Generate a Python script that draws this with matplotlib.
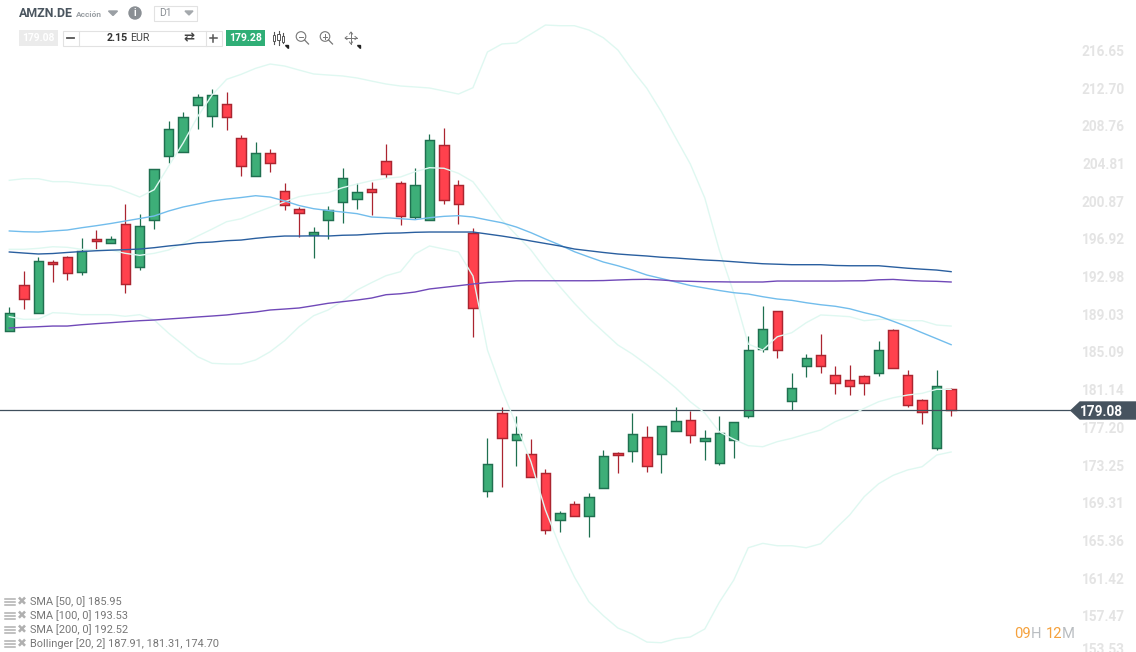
import matplotlib
matplotlib.use("Agg")
import matplotlib.pyplot as plt
from matplotlib.patches import Rectangle, Polygon, Circle

plt.rcParams['font.family'] = ['Roboto', 'DejaVu Sans']

highs = [189.83, 193.63, 195.13, 194.75, 195.20, 197.05, 197.92, 197.29, 200.61, 199.56, 204.27,
         209.30, 210.24, 212.12, 212.64, 212.33, 207.83, 207.10, 206.37, 202.81, 200.30, 198.20,
         200.40, 204.38, 202.81, 202.91, 206.92, 203.02, 204.38, 207.97, 208.56, 203.12, 198.10,
         176.12, 179.37, 178.42, 176.02, 172.88, 168.48, 169.53, 170.37, 174.87, 174.66, 178.74,
         177.38, 177.38, 179.37, 178.95, 176.96, 178.42, 177.80, 186.80, 189.94, 189.41, 182.92,
         184.91, 187.01, 183.66, 183.76, 182.72, 186.27, 187.53, 183.24, 180.20, 183.24, 181.35]
opens = [187.35, 192.13, 189.20, 194.54, 195.06, 193.49, 196.95, 196.59, 198.52, 194.02, 198.94,
         205.63, 206.05, 210.97, 209.82, 211.08, 207.52, 203.54, 205.95, 201.97, 200.09, 197.43,
         198.94, 200.82, 201.13, 202.18, 205.11, 202.81, 199.25, 198.94, 206.78, 202.60, 197.58,
         170.58, 178.74, 175.91, 174.45, 172.46, 167.54, 169.22, 167.96, 170.89, 174.55, 174.76,
         176.23, 174.45, 176.86, 178.01, 175.81, 173.51, 175.91, 178.42, 185.44, 189.41, 179.99,
         183.66, 184.81, 182.72, 182.19, 182.61, 182.92, 187.42, 182.72, 180.10, 175.08, 181.25]
closes = [189.20, 190.67, 194.64, 194.33, 193.39, 195.75, 196.74, 196.95, 192.24, 198.31, 204.27,
          208.46, 209.71, 211.81, 212.02, 209.71, 204.59, 205.95, 204.90, 200.51, 199.67, 197.68,
          199.98, 203.33, 201.87, 201.87, 203.75, 199.35, 202.60, 207.31, 201.03, 200.61, 189.73,
          173.40, 176.12, 176.54, 172.04, 166.49, 168.27, 167.96, 169.95, 174.24, 174.34, 176.54,
          173.19, 177.38, 177.90, 176.44, 176.12, 176.65, 177.80, 185.33, 187.53, 185.33, 181.35,
          184.49, 183.66, 181.88, 181.56, 181.88, 185.33, 183.45, 179.58, 178.84, 181.56, 179.05]
lows = [187.35, 189.65, 189.20, 192.51, 192.69, 193.24, 195.90, 196.59, 191.36, 193.73, 198.06,
        204.96, 206.05, 208.52, 208.73, 208.42, 203.60, 203.54, 204.02, 200.04, 197.16, 195.02,
        197.01, 198.68, 200.15, 199.52, 203.33, 198.47, 199.10, 198.94, 200.67, 198.58, 186.75,
        170.01, 171.06, 173.25, 172.04, 166.14, 166.35, 167.96, 165.82, 170.89, 172.52, 173.67,
        172.63, 172.52, 176.86, 175.66, 173.88, 173.36, 174.09, 178.28, 185.12, 184.56, 179.05,
        182.57, 182.99, 180.79, 180.68, 180.68, 182.67, 183.45, 179.43, 177.59, 174.93, 178.49]

sma50 = [197.82, 197.74, 197.71, 197.82, 197.92, 198.16, 198.37, 198.60, 198.86, 199.12, 199.39,
         199.91, 200.33, 200.64, 200.96, 201.16, 201.32, 201.51, 201.37, 200.96, 200.48, 200.15,
         199.96, 199.80, 199.63, 199.28, 199.21, 199.10, 199.00, 199.21, 199.35, 199.42, 199.28,
         198.97, 198.68, 198.23, 197.64, 196.98, 196.35, 195.65, 195.10, 194.57, 194.18, 193.73,
         193.21, 192.85, 192.48, 192.11, 191.85, 191.59, 191.36, 191.22, 190.94, 190.70, 190.56,
         190.31, 190.10, 189.94, 189.68, 189.27, 188.92, 188.37, 187.80, 187.17, 186.55, 185.92]
sma100 = [195.62, 195.51, 195.41, 195.46, 195.57, 195.67, 195.75, 195.81, 195.86, 195.93, 196.07,
          196.25, 196.40, 196.59, 196.66, 196.80, 196.87, 197.05, 197.19, 197.29, 197.29, 197.31,
          197.29, 197.37, 197.40, 197.50, 197.58, 197.61, 197.68, 197.71, 197.71, 197.71, 197.71,
          197.50, 197.29, 197.05, 196.77, 196.51, 196.25, 195.93, 195.75, 195.57, 195.41, 195.30,
          195.20, 195.07, 194.99, 194.88, 194.78, 194.71, 194.60, 194.49, 194.39, 194.34, 194.29,
          194.29, 194.29, 194.21, 194.18, 194.18, 194.18, 194.05, 193.92, 193.82, 193.73, 193.56]
sma200 = [187.67, 187.74, 187.80, 187.87, 187.87, 188.01, 188.12, 188.22, 188.33, 188.43, 188.50,
          188.61, 188.71, 188.82, 188.92, 189.03, 189.20, 189.34, 189.55, 189.65, 189.76, 190.00,
          190.25, 190.42, 190.59, 190.80, 191.15, 191.25, 191.43, 191.75, 191.92, 192.09, 192.27,
          192.43, 192.51, 192.60, 192.61, 192.61, 192.61, 192.61, 192.61, 192.63, 192.69, 192.74,
          192.76, 192.69, 192.58, 192.55, 192.51, 192.50, 192.48, 192.48, 192.48, 192.58, 192.58,
          192.58, 192.58, 192.58, 192.60, 192.61, 192.71, 192.75, 192.65, 192.58, 192.55, 192.48]

boll_upper = [203.12, 203.29, 203.29, 202.98, 202.98, 202.81, 202.63, 202.52, 201.97, 201.37, 202.14,
              204.62, 207.03, 209.78, 212.05, 213.69, 214.21, 214.84, 215.29, 215.08, 214.66, 214.25,
              214.14, 214.04, 213.83, 213.51, 213.20, 212.99, 212.89, 212.78, 212.47, 212.15, 212.81,
              216.55, 217.39, 217.49, 218.43, 219.37, 219.30, 219.30, 218.85, 218.04, 216.76, 214.66,
              212.75, 210.30, 207.55, 204.83, 201.27, 195.83, 191.33, 185.99, 185.36, 186.75, 187.17,
              188.22, 189.03, 188.95, 188.85, 188.43, 188.57, 188.57, 188.43, 188.43, 187.98, 187.87]
boll_mid = [195.90, 195.90, 196.00, 196.17, 196.11, 195.90, 195.83, 195.83, 195.48, 195.27, 195.48,
            195.83, 196.53, 197.29, 198.02, 198.79, 199.10, 199.73, 200.30, 200.88, 201.41, 201.66,
            201.83, 202.35, 202.73, 203.08, 203.33, 203.47, 204.02, 204.44, 204.38, 203.85, 202.97,
            200.99, 198.97, 197.40, 195.83, 193.81, 191.99, 190.25, 188.68, 187.28, 185.89, 184.94,
            183.83, 182.64, 181.39, 179.95, 178.77, 176.81, 176.02, 175.35, 175.24, 175.77, 176.12,
            176.57, 176.99, 177.86, 178.46, 179.26, 179.95, 180.37, 180.65, 180.83, 181.25, 181.25]
boll_lower = [188.85, 188.57, 188.60, 189.27, 189.20, 189.06, 189.06, 189.06, 188.89, 189.06, 188.50,
              187.11, 185.89, 184.66, 183.97, 183.90, 183.90, 184.32, 185.18, 186.34, 187.80, 188.95,
              189.55, 190.49, 191.64, 192.41, 193.14, 193.56, 195.41, 196.25, 195.93, 195.62, 193.11,
              185.36, 181.18, 177.51, 173.67, 168.62, 164.78, 161.61, 159.02, 157.56, 156.27, 155.64,
              154.80, 154.73, 155.15, 155.33, 156.17, 158.96, 161.29, 164.67, 165.13, 164.88, 164.88,
              164.67, 165.09, 166.63, 168.10, 170.01, 171.37, 172.25, 172.81, 173.15, 174.37, 174.69]

price_ticks = ["216.65", "212.70", "208.76", "204.81", "200.87", "196.92", "192.98", "189.03", "185.09",
               "181.14", "177.20", "173.25", "169.31", "165.36", "161.42", "157.47"]
bottom_tick = "153.53"
last_price = 179.08
legend_rows = ["SMA [50, 0] 185.95", "SMA [100, 0] 193.53", "SMA [200, 0] 192.52",
               "Bollinger [20, 2] 187.91, 181.31, 174.70"]

fig = plt.figure(figsize=(11.36, 6.52), dpi=100)
ax = fig.add_axes([0, 0, 1, 1])
ax.set_xlim(-0.642, 77.76)
ax.set_ylim(153.76, 221.99)
ax.axis("off")

ax.axhline(last_price, xmin=0, xmax=1075 / 1136, color="#3f4f5c", lw=0.9, zorder=4)

# candles
for i in range(len(opens)):
    up = closes[i] >= opens[i]
    fill = "#3dae78" if up else "#ff414d"
    edge = "#1f7050" if up else "#ab2530"
    ax.vlines(i, lows[i], highs[i], color=edge, lw=0.9, zorder=2)
    ax.bar(i, abs(closes[i] - opens[i]), bottom=min(opens[i], closes[i]), width=0.65,
           color=fill, edgecolor=edge, linewidth=1.05, zorder=3)

days = list(range(len(opens)))
for band in [boll_upper, boll_mid, boll_lower]:
    ax.plot(days, band, color="#dff8f1", lw=1.0, zorder=5)
ax.plot(days, sma50, color="#72bdec", lw=1.0, zorder=6)
ax.plot(days, sma100, color="#2a5f9f", lw=1.0, zorder=6)
ax.plot(days, sma200, color="#7049b8", lw=1.0, zorder=6)

# price scale, text sits a pixel below the exact level
for t in price_ticks:
    ax.text(1125 / 1136, float(t) - 0.08, t, transform=ax.get_yaxis_transform(), ha="right", va="center",
            fontsize=9.8, fontweight="bold", color="#e4e4e4")

# everything below is the platform UI, drawn in pixels
ui = fig.add_axes([0, 0, 1, 1])
ui.set_xlim(0, 1136)
ui.set_ylim(652, 0)
ui.axis("off")
ui.patch.set_alpha(0)

ui.text(1125, 650, bottom_tick, color="#e4e4e4", fontsize=9.8, fontweight="bold", ha="right", va="center")

ui.add_patch(Polygon([(1071, 410.5), (1080, 402), (1136, 402), (1136, 419), (1080, 419)], color="#46535f"))
ui.text(1123, 411.5, "179.08", color="white", fontsize=9.8, fontweight="bold", ha="right", va="center")

ui.text(19, 13.5, "AMZN.DE", color="#4a555f", fontsize=8.9, fontweight="bold", va="center")
ui.text(76, 14.5, "Acción", color="#9a9fa4", fontsize=6, fontweight="bold", va="center")
ui.add_patch(Polygon([(108.5, 11), (117.5, 11), (113, 15.5)], color="#9a9fa4"))
ui.add_patch(Circle((135, 13), 6, color="#8a8f94"))
ui.text(135, 13, "i", color="white", fontsize=7, fontweight="bold", ha="center", va="center")
ui.add_patch(Rectangle((153.5, 5.5), 43, 15.5, fc="white", ec="#e2e2e2", lw=0.8))
ui.text(159, 13.5, "D1", color="#8a8f94", fontsize=7.5, va="center")
ui.add_patch(Polygon([(185, 11), (193, 11), (189, 15)], color="#a5a9ad"))

ui.add_patch(Rectangle((19, 30), 39, 16, fc="#ebebeb", ec="none"))
ui.text(38.5, 38, "179.08", color="white", fontsize=7.4, fontweight="bold", ha="center", va="center")
ui.add_patch(Rectangle((62.5, 30.5), 159, 15, fc="white", ec="#e2e2e2", lw=0.8))
ui.plot([78.5, 78.5], [30.5, 45.5], color="#e2e2e2", lw=0.8)
ui.plot([205.5, 205.5], [30.5, 45.5], color="#e2e2e2", lw=0.8)
ui.plot([66.5, 73.5], [38, 38], color="#555555", lw=1.3)
ui.plot([209.5, 216.5], [38, 38], color="#555555", lw=1.1)
ui.plot([213, 213], [34.5, 41.5], color="#555555", lw=1.1)
ui.text(107, 38, "2.15", color="#333333", fontsize=7.7, fontweight="bold", va="center")
ui.text(130, 38, "EUR", color="#444444", fontsize=7.7, va="center")
ui.text(189, 38, "⇄", family="DejaVu Sans", color="#444444", fontsize=9.5, fontweight="bold", ha="center", va="center")
ui.add_patch(Rectangle((226, 30), 39, 16, fc="#2fae76", ec="none"))
ui.text(245.5, 38, "179.28", color="white", fontsize=7.6, fontweight="bold", ha="center", va="center")

# toolbar icons
for x, top, bottom in [(274, 32, 44), (278.5, 31, 45), (283, 33, 43)]:
    ui.plot([x, x], [top, bottom], color="#555555", lw=0.8)
    ui.add_patch(Rectangle((x - 1.2, top + 3), 2.4, 6, fc="white", ec="#555555", lw=0.7, zorder=3))
ui.add_patch(Polygon([(285, 45), (288, 45), (288, 48)], color="#222222"))
for cx, plus in [(301, False), (325, True)]:
    ui.add_patch(Circle((cx, 36.5), 4.8, fc="none", ec="#777777", lw=0.8))
    ui.plot([cx + 3.6, cx + 7.5], [40, 44], color="#777777", lw=0.9)
    ui.plot([cx - 2.3, cx + 2.3], [36.5, 36.5], color="#777777", lw=0.7)
    if plus:
        ui.plot([cx, cx], [34.2, 38.8], color="#777777", lw=0.7)
ui.plot([345, 357], [38, 38], color="#777777", lw=0.7)
ui.plot([351, 351], [32, 44], color="#777777", lw=0.7)
ui.plot([347, 345, 347], [36.5, 38, 39.5], color="#777777", lw=0.7)
ui.plot([355, 357, 355], [36.5, 38, 39.5], color="#777777", lw=0.7)
ui.plot([349.5, 351, 352.5], [34, 32, 34], color="#777777", lw=0.7)
ui.plot([349.5, 351, 352.5], [42, 44, 42], color="#777777", lw=0.7)
ui.add_patch(Polygon([(357, 45), (360, 45), (360, 48)], color="#222222"))

# indicator list, bottom left
for n, row in enumerate(legend_rows):
    y = 601.5 + n * 14
    for dy in [-3, 0, 3]:
        ui.plot([5, 15], [y + dy, y + dy], color="#b0b0b0", lw=1.1)
    ui.text(22, y, "✖", family="DejaVu Sans", color="#b0b0b0", fontsize=8.6, ha="center", va="center")
    ui.text(30, y, row, color="#777777", fontsize=7.9, va="center")

# countdown
for x, part, col in [(1014.5, "09", "#f5a13c"), (1030.5, "H", "#b9bdc1"), (1045.5, "12", "#f5a13c"), (1061.5, "M", "#b9bdc1")]:
    ui.text(x, 634, part, color=col, fontsize=10.6, va="center")

fig.savefig("out.png", dpi=100)
